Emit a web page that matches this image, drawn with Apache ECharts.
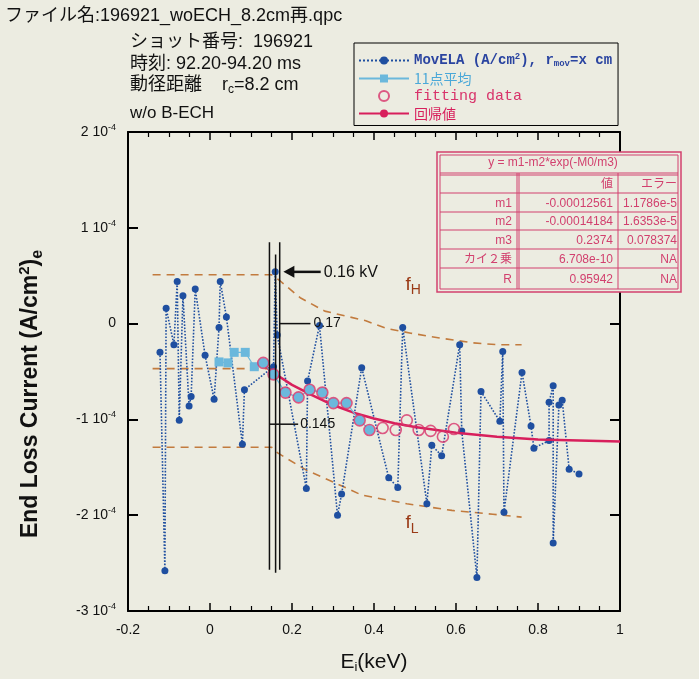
<!DOCTYPE html>
<html><head><meta charset="utf-8">
<script src="https://cdn.jsdelivr.net/npm/echarts@6/dist/echarts.min.js"></script>
<style>html,body{margin:0;padding:0;background:#ececE1;} #c{width:699px;height:679px;}</style>
</head><body><div id="c"></div>
<script>
// ---- data (y in units of 1e-4 A/cm^2, x = Ei in keV) ----
const movX = [-0.122,-0.110,-0.107,-0.088,-0.080,-0.075,-0.066,-0.051,-0.046,-0.036,-0.012,0.010,0.022,0.025,0.040,0.079,0.084,0.155,0.159,0.164,0.235,0.238,0.267,0.311,0.321,0.370,0.436,0.458,0.470,0.529,0.541,0.565,0.609,0.614,0.651,0.661,0.707,0.714,0.717,0.761,0.783,0.790,0.827,0.827,0.837,0.837,0.851,0.859,0.876,0.900];
const movY = [-0.30,-2.58,0.16,-0.22,0.44,-1.01,0.29,-0.86,-0.76,0.36,-0.33,-0.79,-0.04,0.44,0.07,-1.26,-0.69,-0.45,0.54,-0.12,-1.72,-0.60,-0.02,-2.00,-1.78,-0.46,-1.61,-1.71,-0.04,-1.88,-1.27,-1.38,-0.22,-1.12,-2.65,-0.71,-1.02,-0.29,-1.97,-0.51,-1.07,-1.30,-1.22,-0.82,-0.65,-2.29,-0.85,-0.80,-1.52,-1.57];
const avgX = [0.022,0.044,0.059,0.086,0.108,0.130,0.155,0.184,0.216,0.243,0.274,0.301,0.333,0.365,0.389];
const avgY = [-0.40,-0.41,-0.30,-0.30,-0.45,-0.41,-0.53,-0.72,-0.77,-0.69,-0.72,-0.83,-0.83,-1.01,-1.11];
const fitX = [0.130,0.155,0.184,0.216,0.243,0.274,0.301,0.333,0.365,0.389,0.421,0.453,0.480,0.509,0.538,0.568,0.595];
const fitY = [-0.41,-0.53,-0.72,-0.77,-0.69,-0.72,-0.83,-0.83,-1.01,-1.11,-1.09,-1.11,-1.01,-1.11,-1.12,-1.18,-1.10];
const regX = [0.13,0.15,0.20,0.25,0.30,0.35,0.40,0.45,0.50,0.60,0.70,0.80,0.90,1.00];
const regY = [-0.42,-0.50,-0.64,-0.75,-0.85,-0.93,-0.99,-1.04,-1.08,-1.14,-1.18,-1.21,-1.22,-1.23];
const fHX = [-0.14,0.15,0.17,0.22,0.28,0.33,0.38,0.43,0.49,0.56,0.64,0.70,0.76];
const fHY = [0.51,0.51,0.45,0.27,0.13,0.08,0.03,-0.05,-0.10,-0.15,-0.20,-0.22,-0.22];
const midX = [-0.14,0.15];
const midY = [-0.47,-0.47];
const fLX = [-0.14,0.15,0.165,0.235,0.335,0.37,0.48,0.59,0.69,0.76];
const fLY = [-1.29,-1.29,-1.35,-1.53,-1.72,-1.79,-1.88,-1.95,-1.99,-2.02];
const cutX = [0.145,0.16,0.17];
const cutTop = [0.85,0.72,0.85];
const cutBottom = [-2.57,-2.60,-2.57];
const cutLabels = ['0.145','0.16 kV','0.17'];
// fit table
const fitFormula = 'y = m1-m2*exp(-M0/m3)';
const tableHead = ['', '値', 'エラー'];
const tableNames = ['m1','m2','m3','カイ２乗','R'];
const tableValues = ['-0.00012561','-0.00014184','0.2374','6.708e-10','0.95942'];
const tableErrors = ['1.1786e-5','1.6353e-5','0.078374','NA','NA'];
// header text
const headerLines = ['ファイル名:196921_woECH_8.2cm再.qpc','ショット番号:  196921','時刻: 92.20-94.20 ms','動径距離','w/o B-ECH'];

const FONT = "'Liberation Sans','Noto Sans CJK JP',sans-serif";
const MONO = "'Liberation Mono','DejaVu Sans Mono',monospace";
const CJK = "'Noto Sans CJK JP',sans-serif";
const BLUE = '#1f4fa0', LBLUE = '#6bb8dc', PINK = '#d8336a', RED = '#d81f5c', BROWN = '#c27b3e', TABLE = '#d2406e';
const zip = (a,b)=>a.map((v,i)=>[v,b[i]]);

const chart = echarts.init(document.getElementById('c'), null, {renderer:'canvas'});
const axisCommon = {min:-0.2,max:1,interval:0.2,axisLine:{onZero:false,lineStyle:{color:'#000',width:2}},splitLine:{show:false}};
const option = {
  backgroundColor:'#ececE1',
  animation:false,
  textStyle:{fontFamily:FONT},
  grid:{left:128,right:79,top:132,bottom:57,containLabel:false},
  xAxis:[
    Object.assign({type:'value',position:'bottom',
      axisTick:{inside:true,length:8,lineStyle:{color:'#000',width:1.5}},
      minorTick:{show:true,splitNumber:4,length:5,lineStyle:{color:'#000',width:1.2}},
      axisLabel:{color:'#111',fontSize:14,margin:12,formatter:v=>String(Math.round(v*10)/10)},
      name:'{m|E}{s|i}{m|(keV)}',nameLocation:'middle',nameGap:40,
      nameTextStyle:{rich:{m:{fontSize:21,color:'#111',fontFamily:FONT},s:{fontSize:13,color:'#111',padding:[10,0,0,0],fontFamily:FONT}}}
    },axisCommon),
    Object.assign({type:'value',position:'top',
      axisTick:{inside:true,length:8,lineStyle:{color:'#000',width:1.5}},
      minorTick:{show:true,splitNumber:4,length:5,lineStyle:{color:'#000',width:1.2}},
      axisLabel:{show:false}},axisCommon)
  ],
  yAxis:[
    {type:'value',position:'left',min:-3,max:2,interval:1,
      axisLine:{onZero:false,lineStyle:{color:'#000',width:2}},splitLine:{show:false},
      axisTick:{inside:true,length:10,lineStyle:{color:'#000',width:2}},
      axisLabel:{margin:12,formatter:v=> v===0?'{n|0}':'{n|'+v+' 10}{e|-4}',
        rich:{n:{fontSize:14,color:'#111',fontFamily:FONT},e:{fontSize:9,color:'#111',padding:[0,0,9,0],fontFamily:FONT}}}
    },
    {type:'value',position:'right',min:-3,max:2,interval:1,
      axisLine:{onZero:false,lineStyle:{color:'#000',width:2}},splitLine:{show:false},
      axisTick:{inside:true,length:10,lineStyle:{color:'#000',width:2}},
      axisLabel:{show:false}}
  ],
  legend:{
    orient:'vertical',left:354,top:43,itemWidth:50,itemHeight:10,itemGap:3,
    padding:[9,6,5,4],borderColor:'#000',borderWidth:1,
    data:['MovELA','11点平均','fitting data','回帰値'],
    formatter:n=>({
      'MovELA':'{a|MovELA (A/cm}{ap|2}{a|), r}{as|mov}{a|=x cm}',
      '11点平均':'{b|11点平均}',
      'fitting data':'{c|fitting data}',
      '回帰値':'{d|回帰値}'
    })[n],
    textStyle:{rich:{
      a:{fontFamily:MONO,fontWeight:'bold',fontSize:14,color:'#2a44a0'},
      ap:{fontFamily:MONO,fontWeight:'bold',fontSize:9,color:'#2a44a0',padding:[0,0,8,0]},
      as:{fontFamily:MONO,fontWeight:'bold',fontSize:9,color:'#2a44a0',padding:[7,0,0,0]},
      b:{fontFamily:CJK,fontSize:14,color:'#4aa8d8'},
      c:{fontFamily:MONO,fontSize:15,color:PINK},
      d:{fontFamily:CJK,fontSize:14,color:RED}
    }}
  },
  series:[
    {name:'fH',type:'line',data:zip(fHX,fHY),symbol:'none',silent:true,lineStyle:{color:BROWN,width:1.6,type:[8,6]},z:1},
    {name:'mid',type:'line',data:zip(midX,midY),symbol:'none',silent:true,lineStyle:{color:BROWN,width:1.6,type:[8,6]},z:1},
    {name:'fL',type:'line',data:zip(fLX,fLY),symbol:'none',silent:true,lineStyle:{color:BROWN,width:1.6,type:[8,6]},z:1},
    {name:'MovELA',type:'line',data:zip(movX,movY),symbol:'circle',symbolSize:7,
      itemStyle:{color:BLUE},lineStyle:{color:BLUE,width:1.6,type:'dotted'},z:3},
    {name:'回帰値',type:'line',data:zip(regX,regY),symbol:'none',itemStyle:{color:RED},lineStyle:{color:RED,width:2.5},z:4},
    {name:'11点平均',type:'line',data:zip(avgX,avgY).map(p=>({value:p,symbol:p[0]>=0.125?'circle':'rect',symbolSize:p[0]>=0.125?10:9})),
      symbol:'rect',symbolSize:9,itemStyle:{color:LBLUE},lineStyle:{color:LBLUE,width:1.2},z:5},
    {name:'fitting data',type:'scatter',data:zip(fitX,fitY),symbol:'circle',symbolSize:11,
      itemStyle:{color:'rgba(0,0,0,0)',borderColor:PINK,borderWidth:1.6},z:6}
  ]
};
chart.setOption(option);

// annotations computed from data coordinates
const P = (x,y)=>chart.convertToPixel({xAxisIndex:0,yAxisIndex:0},[x,y]);
const g = [];
cutX.forEach((x,i)=>{
  const a=P(x,cutTop[i]), b=P(x,cutBottom[i]);
  g.push({type:'line',shape:{x1:a[0],y1:a[1],x2:b[0],y2:b[1]},style:{stroke:'#111',lineWidth:1.5},z:20});
});
(function(){
  const a=P(cutX[2],0.0), b=P(0.245,0.0);
  g.push({type:'line',shape:{x1:a[0],y1:a[1],x2:b[0],y2:b[1]},style:{stroke:'#111',lineWidth:1.5},z:20});
  g.push({type:'text',x:b[0]+3,y:b[1],style:{text:cutLabels[2],font:'14px '+FONT,fill:'#111',textVerticalAlign:'middle'},z:21});
  const c=P(cutX[0],-1.05), d=P(0.215,-1.05);
  g.push({type:'line',shape:{x1:c[0],y1:c[1],x2:d[0],y2:d[1]},style:{stroke:'#111',lineWidth:1.5},z:20});
  g.push({type:'text',x:d[0]+2,y:d[1],style:{text:cutLabels[0],font:'14px '+FONT,fill:'#111',textVerticalAlign:'middle'},z:21});
  const e=P(0.27,0.54), f=P(0.179,0.54);
  g.push({type:'line',shape:{x1:e[0],y1:e[1],x2:f[0]+8,y2:f[1]},style:{stroke:'#111',lineWidth:2.5},z:20});
  g.push({type:'polygon',shape:{points:[[f[0],f[1]],[f[0]+11,f[1]-6],[f[0]+11,f[1]+6]]},style:{fill:'#111'},z:20});
  g.push({type:'text',x:e[0]+3,y:e[1]+1,style:{text:cutLabels[1],font:'16px '+FONT,fill:'#111',textVerticalAlign:'middle'},z:21});
  const h=P(0.477,0.41);
  g.push({type:'text',x:h[0],y:h[1],style:{text:'{f|f}{s|H}',rich:{f:{fontSize:19,fill:'#9a3a16',fontFamily:FONT},s:{fontSize:14,fill:'#9a3a16',padding:[12,0,0,0],fontFamily:FONT}},textVerticalAlign:'middle'},z:21});
  const l=P(0.477,-2.08);
  g.push({type:'text',x:l[0],y:l[1],style:{text:'{f|f}{s|L}',rich:{f:{fontSize:19,fill:'#9a3a16',fontFamily:FONT},s:{fontSize:14,fill:'#9a3a16',padding:[12,0,0,0],fontFamily:FONT}},textVerticalAlign:'middle'},z:21});
})();

// y-axis title (rotated)
g.push({type:'text',x:31,y:394,rotation:Math.PI/2,style:{text:'{m|End Loss Current (A/cm}{p|2}{m|)}{s|e}',
  rich:{m:{fontSize:23,fontWeight:'bold',fill:'#111',fontFamily:FONT},p:{fontSize:15,fontWeight:'bold',fill:'#111',padding:[0,0,12,0],fontFamily:FONT},s:{fontSize:16,fontWeight:'bold',fill:'#111',padding:[13,0,0,0],fontFamily:FONT}},
  textAlign:'center',textVerticalAlign:'middle'}});

// header text
g.push({type:'text',left:5,top:7,style:{text:headerLines[0],font:'18px '+FONT,fill:'#111'}});
g.push({type:'text',left:130,top:33,style:{text:headerLines[1],font:'18px '+FONT,fill:'#111'}});
g.push({type:'text',left:130,top:55,style:{text:headerLines[2],font:'18px '+FONT,fill:'#111'}});
g.push({type:'text',left:130,top:76,style:{text:'{m|'+headerLines[3]+'    r}{s|c}{m|=8.2 cm}',rich:{m:{fontSize:18,fill:'#111',fontFamily:FONT},s:{fontSize:12,fill:'#111',padding:[10,0,0,0],fontFamily:FONT}}}});
g.push({type:'text',left:130,top:105,style:{text:headerLines[4],font:'17px '+FONT,fill:'#111'}});

// fit table
(function(){
  const L=437,R=681,T=152,B=292,c1=519,c2=618;
  const rowTops=[175,193,212,230,249,268,289];
  g.push({type:'rect',shape:{x:L,y:T,width:R-L,height:B-T},style:{fill:'#ececE1',stroke:TABLE,lineWidth:1.5},z:30});
  g.push({type:'rect',shape:{x:L+3,y:T+3,width:R-L-6,height:B-T-6},style:{fill:'none',stroke:TABLE,lineWidth:1},z:31});
  g.push({type:'line',shape:{x1:L+3,y1:173,x2:R-3,y2:173},style:{stroke:TABLE,lineWidth:1},z:31});
  g.push({type:'line',shape:{x1:L+3,y1:175,x2:R-3,y2:175},style:{stroke:TABLE,lineWidth:1},z:31});
  for(let i=1;i<rowTops.length-1;i++) g.push({type:'line',shape:{x1:L+3,y1:rowTops[i],x2:R-3,y2:rowTops[i]},style:{stroke:TABLE,lineWidth:1},z:31});
  [c1-2,c1,c2].forEach(c=>g.push({type:'line',shape:{x1:c,y1:173,x2:c,y2:B-3},style:{stroke:TABLE,lineWidth:1},z:31}));
  g.push({type:'text',x:(L+R)/2-6,y:163,style:{text:fitFormula,font:'12px '+FONT,fill:TABLE,textAlign:'center',textVerticalAlign:'middle'},z:32});
  const rowsC=[[tableHead[0],tableHead[1],tableHead[2]]].concat(tableNames.map((n,i)=>[n,tableValues[i],tableErrors[i]]));
  rowsC.forEach((r,i)=>{
    const y=(rowTops[i]+rowTops[i+1])/2+1;
    g.push({type:'text',x:c1-7,y:y,style:{text:r[0],font:'12px '+FONT,fill:TABLE,textAlign:'right',textVerticalAlign:'middle'},z:32});
    g.push({type:'text',x:c2-5,y:y,style:{text:r[1],font:'12px '+FONT,fill:TABLE,textAlign:'right',textVerticalAlign:'middle'},z:32});
    g.push({type:'text',x:R-4,y:y,style:{text:r[2],font:'12px '+FONT,fill:TABLE,textAlign:'right',textVerticalAlign:'middle'},z:32});
  });
})();
chart.setOption({graphic:g});
</script></body></html>
